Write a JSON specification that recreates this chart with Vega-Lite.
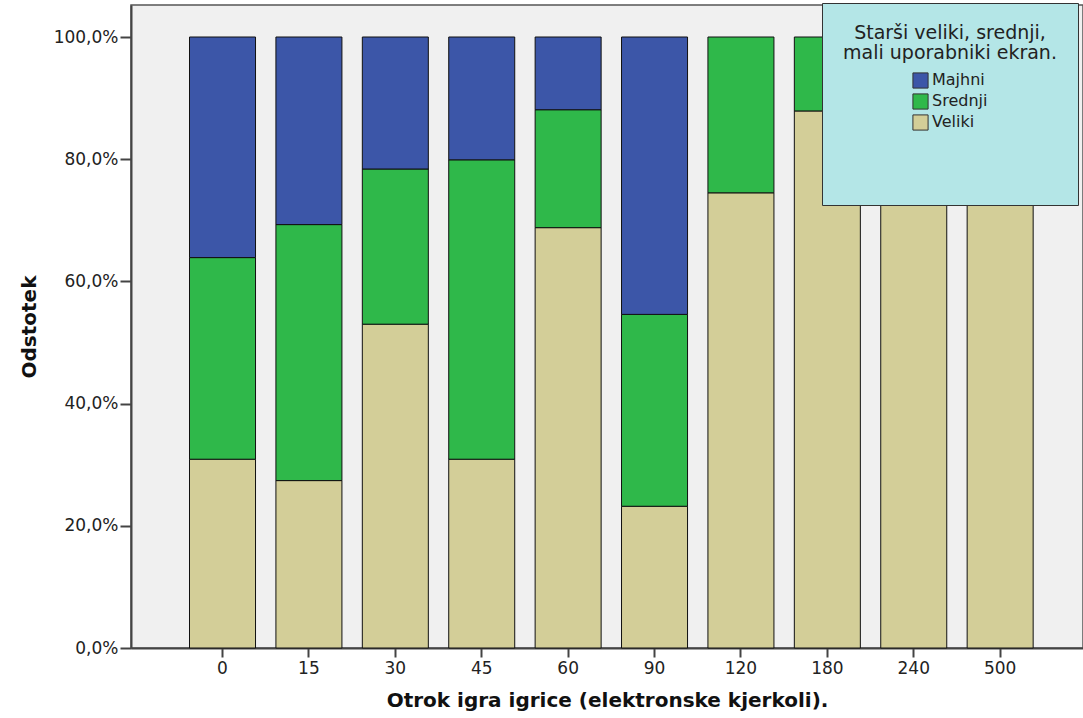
{
  "$schema": "https://vega.github.io/schema/vega-lite/v6.json",
  "autosize": "none",
  "width": 952,
  "height": 643,
  "padding": {"left": 131, "top": 5, "right": 0, "bottom": 70},
  "background": "white",
  "data": {
    "values": [
      {"cat": "0", "group": "Veliki", "value": 0.309},
      {"cat": "0", "group": "Srednji", "value": 0.330},
      {"cat": "0", "group": "Majhni", "value": 0.361},
      {"cat": "15", "group": "Veliki", "value": 0.274},
      {"cat": "15", "group": "Srednji", "value": 0.419},
      {"cat": "15", "group": "Majhni", "value": 0.307},
      {"cat": "30", "group": "Veliki", "value": 0.530},
      {"cat": "30", "group": "Srednji", "value": 0.254},
      {"cat": "30", "group": "Majhni", "value": 0.216},
      {"cat": "45", "group": "Veliki", "value": 0.309},
      {"cat": "45", "group": "Srednji", "value": 0.490},
      {"cat": "45", "group": "Majhni", "value": 0.201},
      {"cat": "60", "group": "Veliki", "value": 0.688},
      {"cat": "60", "group": "Srednji", "value": 0.193},
      {"cat": "60", "group": "Majhni", "value": 0.119},
      {"cat": "90", "group": "Veliki", "value": 0.232},
      {"cat": "90", "group": "Srednji", "value": 0.314},
      {"cat": "90", "group": "Majhni", "value": 0.454},
      {"cat": "120", "group": "Veliki", "value": 0.745},
      {"cat": "120", "group": "Srednji", "value": 0.255},
      {"cat": "180", "group": "Veliki", "value": 0.879},
      {"cat": "180", "group": "Srednji", "value": 0.121},
      {"cat": "240", "group": "Veliki", "value": 1.0},
      {"cat": "500", "group": "Veliki", "value": 1.0}
    ]
  },
  "mark": {"type": "bar", "stroke": "#111", "strokeWidth": 1},
  "encoding": {
    "x": {
      "field": "cat",
      "type": "ordinal",
      "sort": ["0", "15", "30", "45", "60", "90", "120", "180", "240", "500"],
      "scale": {"paddingInner": 0.236, "paddingOuter": 0.627, "align": 0.54},
      "axis": {
        "title": "Otrok igra igrice (elektronske kjerkoli).",
        "labelAngle": 0,
        "labelFont": "DejaVu Sans",
        "labelFontSize": 17,
        "labelColor": "#222",
        "labelPadding": 3,
        "tickSize": 9,
        "tickColor": "#444",
        "tickWidth": 2,
        "domainColor": "#444",
        "domainWidth": 2,
        "titleFont": "DejaVu Sans",
        "titleFontWeight": "bold",
        "titleFontSize": 20,
        "titleColor": "#111",
        "titlePadding": 14
      }
    },
    "y": {
      "field": "value",
      "type": "quantitative",
      "stack": true,
      "scale": {"domain": [0, 1.0524], "nice": false},
      "axis": {
        "title": "Odstotek",
        "values": [0, 0.2, 0.4, 0.6, 0.8, 1.0],
        "labelExpr": "replace(format(datum.value, '.1%'), '.', ',')",
        "grid": false,
        "labelFont": "DejaVu Sans",
        "labelFontSize": 17,
        "labelColor": "#222",
        "labelPadding": 2,
        "tickSize": 11,
        "tickColor": "#444",
        "tickWidth": 2,
        "domainColor": "#444",
        "domainWidth": 2,
        "titleFont": "DejaVu Sans",
        "titleFontWeight": "bold",
        "titleFontSize": 20,
        "titleColor": "#111",
        "titlePadding": 14
      }
    },
    "color": {
      "field": "group",
      "type": "nominal",
      "scale": {"domain": ["Majhni", "Srednji", "Veliki"], "range": ["#3c56a8", "#2fb84a", "#d3ce98"]},
      "legend": {
        "title": ["Starši veliki, srednji,", "mali uporabniki ekran."],
        "orient": "none",
        "legendX": 691,
        "legendY": -2,
        "padding": 21,
        "fillColor": "#b4e6e7",
        "strokeColor": "#333",
        "titleFont": "DejaVu Sans",
        "titleFontWeight": "normal",
        "titleFontSize": 19,
        "titleColor": "#222",
        "titleLimit": 400,
        "titleAnchor": "middle",
        "titleAlign": "center",
        "titlePadding": 9,
        "titleLineHeight": 20,
        "symbolType": "square",
        "symbolSize": 230,
        "symbolStrokeColor": "#333",
        "symbolStrokeWidth": 1,
        "symbolOpacity": 1,
        "symbolOffset": 0,
        "labelFont": "DejaVu Sans",
        "labelFontSize": 16,
        "labelColor": "#222",
        "labelOffset": 3,
        "labelBaseline": "top",
        "labelExpr": "datum.label == 'Veliki' ? ['Veliki', '', '', ''] : datum.label",
        "rowPadding": 0,
        "encode": {"labels": {"update": {"dy": {"value": -9}}}}
      }
    },
    "order": {"field": "group", "sort": "descending"}
  },
  "config": {
    "view": {"fill": "#f0f0f0", "stroke": "#555", "strokeWidth": 1.5}
  }
}
